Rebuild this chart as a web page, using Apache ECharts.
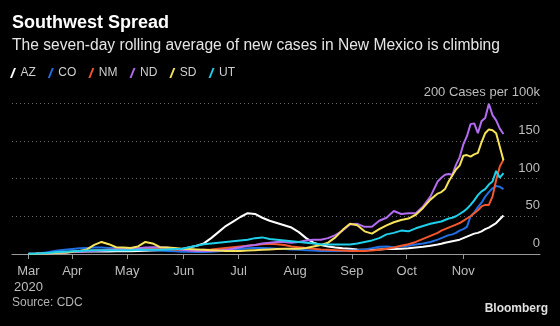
<!DOCTYPE html>
<html>
<head>
<meta charset="utf-8">
<script src="https://cdn.jsdelivr.net/npm/echarts@6/dist/echarts.min.js"></script>
<style>
  html, body { margin: 0; padding: 0; background: #000; }
  #chart { width: 560px; height: 326px; }
</style>
</head>
<body>
<div id="chart"></div>
<script>
// Day number counted from 1 March 2020 (0 = Mar 1)
const days = [7,11,15,19,23,27,31,35,39,43,47,51,55,59,63,67,71,75,79,83,87,91,95,99,103,107,111,115,119,123,127,131,135,139,143,147,151,155,159,163,167,171,175,179,183,187,191,195,199,203,207,211,215,219,223,227,231,
  233,235,237,239,241,243,245,247,249,251,253,255,257,259,261,263,265,267];

// Seven-day rolling average of new cases per 100k residents
const azCases = [0.2,0.3,0.6,1,1.5,2,2.5,3,3.2,3.5, 3.4,3.3,3.5,3.6,3.5,4,4.3,4.6,5,5.2, 5.5,6.5,8.5,11,14,21,29,37,43,49, 54,53,48,44,41,38,35,29,21,15, 12,10,8.5,7.5,7,6,5.5,5.5,6,6.5, 6.5,7,7.5,8.5,9.5,11,12.5,
  13.5,15,16,17,18,19,21,23,25,27,28,30,33,35,38,41,46,51];
const coCases = [0.3,0.6,1.5,3,4.5,5.5,6.5,7.5,8,8.5, 8.5,8,7.5,7,6.5,6,5.5,5,4.5,4, 3.5,3,3,2.8,2.8,3,3.5,4.5,5.5,6.5, 7.5,8,8,7.5,7,6.5,6,5.5,5,4.5, 4,4,4,4,4.5,5,6,7.5,9.5,10, 9,10,11,12.5,14,16,19,
  21,23,25,26,28,31,33,36,50,55,62,68,76,82,87,90,89,86];
const nmCases = [0,0.2,0.5,1,1.5,2,3,3.5,4,4.5, 5,5.5,6,6.5,7,7,7.5,7.5,7,6.5, 6,5.5,5,5,5.5,6,7,8,9,10, 11,12,13,13.5,13,12,10,9,8,7, 6,5.5,5,4.5,4,4,4,4.5,5.5,7, 8.5,11,13,16,20,24,28,
  31,33,35,37,39,41,44,47,50,54,58,63,65,65,76,98,116,125];
const ndCases = [0,0.2,0.5,1,1.5,2,2.5,3,3.5,4, 4.5,5,6,6.5,7,7.5,8.5,9,9,8.5, 7,5.5,4.5,4,4,4,4.5,5.5,7,9, 11,12,14,15,16,16,15,16,18,19, 19,21,25,31,39,40,36,36,44,48, 57,53,54,54,63,76,96,
  101,105,106,105,118,128,145,156,172,173,160,176,180,199,184,177,166,159];
const sdCases = [0,0.2,0.5,1,1.5,2,3,4,6,12, 16,13,9,8.5,8,10,16,14,9,8.5, 8,7,6.5,6,5.5,5,4.5,4,4,4, 4.5,5,5.5,6,6.5,7,7,7,8,10, 12,15,22,32,40,38,30,27,33,38, 42,45,47,52,61,72,80,
  82,86,96,104,112,117,130,131,129,132,134,148,160,165,164,160,142,124];
const utCases = [0.2,0.5,1,1.5,2.5,3,3.5,4,4.5,5, 5,5,5,5,5,5.5,5.5,5.5,5.5,6, 6.5,7,9,11,13,14,15,16,17,18, 19,21,22,20,19,18,17,16,15,14, 13,12.5,12.5,12.5,12.5,14,16,18,21,26, 28,31,30,34,37,40,42,
  43,45,47,48,50,53,56,60,65,71,78,83,86,92,96,110,101,107];

const stateNames = ['AZ','CO','NM','ND','SD','UT'];
const stateColors = ['#ffffff','#1f6fe5','#f2582c','#b36cf0','#f6e35a','#1fd0ea'];
const stateValues = [azCases, coCases, nmCases, ndCases, sdCases, utCases];

// Month ticks: first tick sits on the first day of data
const tickDays = [7,31,61,92,122,153,184,214,245];
const tickLabels = ['Mar\n2020','Apr','May','Jun','Jul','Aug','Sep','Oct','Nov'];
const yTopLabel = '200 Cases per 100k';

const FONT = '"Liberation Sans", Arial, sans-serif';
const chart = echarts.init(document.getElementById('chart'), null, { renderer: 'canvas' });

const slash = 'path://M0,10 L4,0 L6,0 L2,10 Z';

chart.setOption({
  backgroundColor: '#000000',
  animation: false,
  textStyle: { fontFamily: FONT },
  title: [
    { text: 'Southwest Spread', left: 12, top: 14, padding: 0,
      textStyle: { color: '#ffffff', fontSize: 18, fontWeight: 'bold', fontFamily: FONT } },
    { text: 'The seven-day rolling average of new cases in New Mexico is climbing', left: 12, top: 38, padding: 0,
      textStyle: { color: '#e6e6e6', fontSize: 15.6, fontWeight: 'normal', fontFamily: FONT } },
    { text: 'Source: CDC', left: 12, top: 297, padding: 0,
      textStyle: { color: '#b4b4b4', fontSize: 12, fontWeight: 'normal', fontFamily: FONT } },
    { text: 'Bloomberg', right: 12, top: 303, padding: 0,
      textStyle: { color: '#e0e0e0', fontSize: 12, fontWeight: 'bold', fontFamily: FONT } }
  ],
  legend: {
    left: 10, top: 67, padding: 0,
    itemWidth: 7, itemHeight: 10, itemGap: 12,
    icon: slash,
    textStyle: { color: '#cfcfcf', fontSize: 12, fontFamily: FONT, padding: [0, 0, 0, -1] },
    data: stateNames
  },
  grid: { left: 12, right: 20, top: 103, bottom: 72 },
  xAxis: {
    type: 'value', min: -2, max: 287,
    axisLine: { lineStyle: { color: '#9a9a9a', width: 1 } },
    axisTick: { show: true, customValues: tickDays, length: 5, lineStyle: { color: '#9a9a9a' } },
    axisLabel: {
      customValues: tickDays, color: '#bdbdbd', fontSize: 13, fontFamily: FONT, margin: 9, lineHeight: 16,
      formatter: v => tickLabels[tickDays.indexOf(v)]
    },
    splitLine: { show: false }
  },
  yAxis: {
    type: 'value', position: 'right', min: 0, max: 200, interval: 50,
    axisLine: { show: false }, axisTick: { show: false },
    axisLabel: {
      inside: true, margin: 0, color: '#bdbdbd', fontSize: 13, fontFamily: FONT,
      verticalAlign: 'bottom', padding: [0, 0, 4, 0],
      formatter: v => v === 200 ? yTopLabel : String(v)
    },
    splitLine: { lineStyle: { color: '#6a6a6a', type: [1, 3], width: 1 } }
  },
  series: stateNames.map((name, k) => ({
    name, type: 'line', showSymbol: false, symbol: 'none',
    data: days.map((d, i) => [d, stateValues[k][i]]),
    lineStyle: { color: stateColors[k], width: 2 },
    itemStyle: { color: stateColors[k] },
    z: 2 + k
  }))
});
</script>
</body>
</html>
